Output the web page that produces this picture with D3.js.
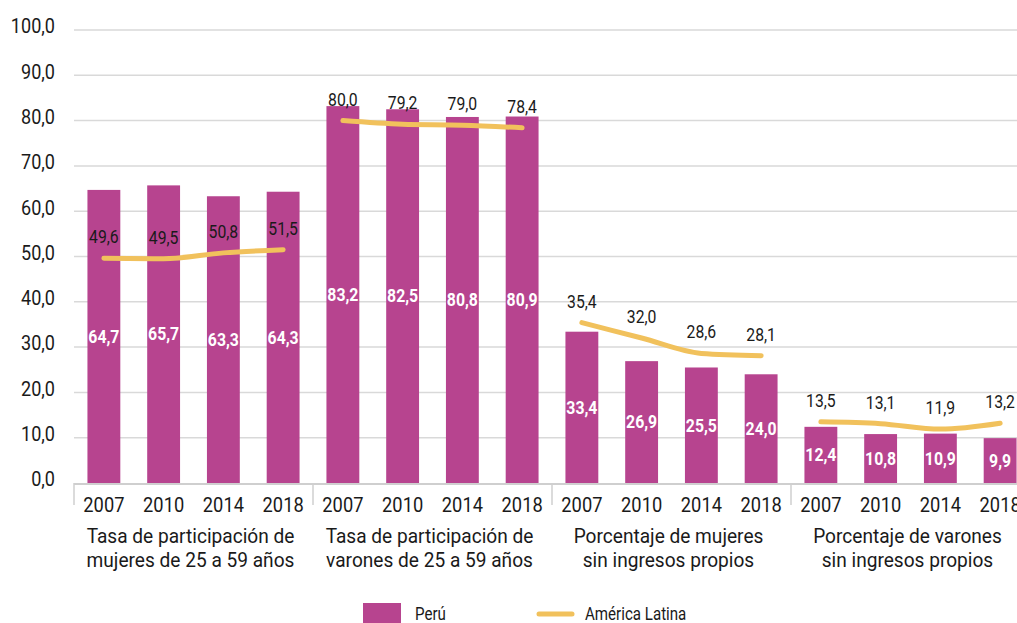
<!DOCTYPE html>
<html>
<head>
<meta charset="utf-8">
<script src="https://cdn.jsdelivr.net/npm/d3@7"></script>
<style>
body { margin: 0; background: #fff; }
text { font-family: Roboto, "Noto Sans", sans-serif; }
</style>
</head>
<body>
<div id="chart"></div>
<script>
var groups = [
    ["Tasa de participación de", "mujeres de 25 a 59 años"],
    ["Tasa de participación de", "varones de 25 a 59 años"],
    ["Porcentaje de mujeres", "sin ingresos propios"],
    ["Porcentaje de varones", "sin ingresos propios"]
];
var years = ["2007", "2010", "2014", "2018"];
var peru = [
    [64.7, 65.7, 63.3, 64.3],
    [83.2, 82.5, 80.8, 80.9],
    [33.4, 26.9, 25.5, 24.0],
    [12.4, 10.8, 10.9, 9.9]
];
var latam = [
    [49.6, 49.5, 50.8, 51.5],
    [80.0, 79.2, 79.0, 78.4],
    [35.4, 32.0, 28.6, 28.1],
    [13.5, 13.1, 11.9, 13.2]
];
var y_ticks = [0, 10, 20, 30, 40, 50, 60, 70, 80, 90, 100];

var width = 1017, height = 623;
var left = 74, right = 1030, top_y = 30, bottom_y = 483;

var svg = d3.select("#chart").append("svg")
    .attr("width", width)
    .attr("height", height);

var fmt = function(v) { return v.toFixed(1).replace(".", ","); };

// narrow text helper (reference font is a condensed face)
function place(sel, fx, fy, sx) {
    sel.attr("transform", function(d, i) {
        return "translate(" + fx(d, i) + "," + fy(d, i) + ") scale(" + sx + ",1)";
    });
}

var y_scale = d3.scaleLinear().domain([0, 100]).range([bottom_y, top_y]);

var group_scale = d3.scaleBand()
    .domain(d3.range(groups.length))
    .range([left, right]);

var year_scale = d3.scaleBand()
    .domain(years)
    .range([0, group_scale.bandwidth()]);

var bar_w = year_scale.bandwidth() * 0.55;

// gridlines
svg.append("g").selectAll("line")
    .data(y_ticks.slice(1))
    .enter().append("line")
    .attr("x1", left).attr("x2", width)
    .attr("y1", function(d) { return y_scale(d); })
    .attr("y2", function(d) { return y_scale(d); })
    .attr("stroke", "#d9d9d9")
    .attr("stroke-width", 1.5);

// y labels
var yl = svg.append("g").selectAll("text")
    .data(y_ticks)
    .enter().append("text")
    .attr("dy", "0.35em")
    .attr("text-anchor", "end")
    .attr("font-size", 21)
    .attr("fill", "#1a1a1a")
    .text(fmt);
place(yl, function() { return 55; }, function(d) { return y_scale(d) - 4; }, 0.86);

// flatten data
var bars = [];
var pts = [];
peru.forEach(function(vals, g) {
    vals.forEach(function(v, i) {
        var cx = group_scale(g) + year_scale(years[i]) + year_scale.bandwidth() / 2;
        bars.push({ g: g, i: i, v: v, cx: cx });
        pts.push({ g: g, i: i, v: latam[g][i], cx: cx });
    });
});

svg.append("g").selectAll("rect")
    .data(bars)
    .enter().append("rect")
    .attr("x", function(d) { return d.cx - bar_w / 2; })
    .attr("y", function(d) { return y_scale(d.v); })
    .attr("width", bar_w)
    .attr("height", function(d) { return bottom_y - y_scale(d.v); })
    .attr("fill", "#b7448f");

// x axis line + group ticks
svg.append("line")
    .attr("x1", left).attr("x2", width)
    .attr("y1", bottom_y + 1).attr("y2", bottom_y + 1)
    .attr("stroke", "#cfcfcf").attr("stroke-width", 2);

svg.append("g").selectAll("line")
    .data(d3.range(groups.length))
    .enter().append("line")
    .attr("x1", function(d) { return group_scale(d); })
    .attr("x2", function(d) { return group_scale(d); })
    .attr("y1", bottom_y)
    .attr("y2", bottom_y + 22)
    .attr("stroke", "#cfcfcf").attr("stroke-width", 1.5);

// bar labels
var bl = svg.append("g").selectAll("text")
    .data(bars)
    .enter().append("text")
    .attr("dy", "0.35em")
    .attr("text-anchor", "middle")
    .attr("font-size", 18)
    .attr("font-weight", "bold")
    .attr("fill", "#fff")
    .text(function(d) { return fmt(d.v); });
place(bl, function(d) { return d.cx; }, function(d) { return y_scale(Math.min(d.v / 2, 48.5)); }, 0.88);

// America Latina lines
var line = d3.line()
    .x(function(d) { return d.cx; })
    .y(function(d) { return y_scale(d.v); })
    .curve(d3.curveMonotoneX);

svg.append("g").selectAll("path")
    .data(d3.range(groups.length))
    .enter().append("path")
    .attr("d", function(g) { return line(pts.filter(function(p) { return p.g === g; })); })
    .attr("fill", "none")
    .attr("stroke", "#f1c15c")
    .attr("stroke-width", 5)
    .attr("stroke-linecap", "round");

var ll = svg.append("g").selectAll("text")
    .data(pts)
    .enter().append("text")
    .attr("text-anchor", "middle")
    .attr("font-size", 17.5)
    .attr("fill", "#1a1a1a")
    .text(function(d) { return fmt(d.v); });
place(ll, function(d) { return d.cx; }, function(d) { return y_scale(d.v) - 15; }, 0.9);

// year labels
var xl = svg.append("g").selectAll("text")
    .data(bars)
    .enter().append("text")
    .attr("text-anchor", "middle")
    .attr("font-size", 21)
    .attr("fill", "#1a1a1a")
    .text(function(d) { return years[d.i]; });
place(xl, function(d) { return d.cx; }, function() { return 512; }, 0.87);

// group labels
var lines = [];
groups.forEach(function(g, gi) {
    g.forEach(function(t, k) { lines.push({ t: t, g: gi, k: k }); });
});
var gl = svg.append("g").selectAll("text")
    .data(lines)
    .enter().append("text")
    .attr("text-anchor", "middle")
    .attr("font-size", 21)
    .attr("fill", "#1a1a1a")
    .text(function(d) { return d.t; });
place(gl, function(d) { return group_scale(d.g) + group_scale.bandwidth() / 2 - 3; },
    function(d) { return 543 + d.k * 24; }, 0.91);

// legend
svg.append("rect")
    .attr("x", 363).attr("y", 603)
    .attr("width", 38).attr("height", 22)
    .attr("fill", "#b7448f");
svg.append("line")
    .attr("x1", 539).attr("x2", 572)
    .attr("y1", 614).attr("y2", 614)
    .attr("stroke", "#f1c15c").attr("stroke-width", 5)
    .attr("stroke-linecap", "round");
var leg = svg.append("g").selectAll("text")
    .data([{ t: "Perú", x: 415 }, { t: "América Latina", x: 585 }])
    .enter().append("text")
    .attr("font-size", 18)
    .attr("fill", "#1a1a1a")
    .text(function(d) { return d.t; });
place(leg, function(d) { return d.x; }, function() { return 620; }, 0.84);
</script>
</body>
</html>
